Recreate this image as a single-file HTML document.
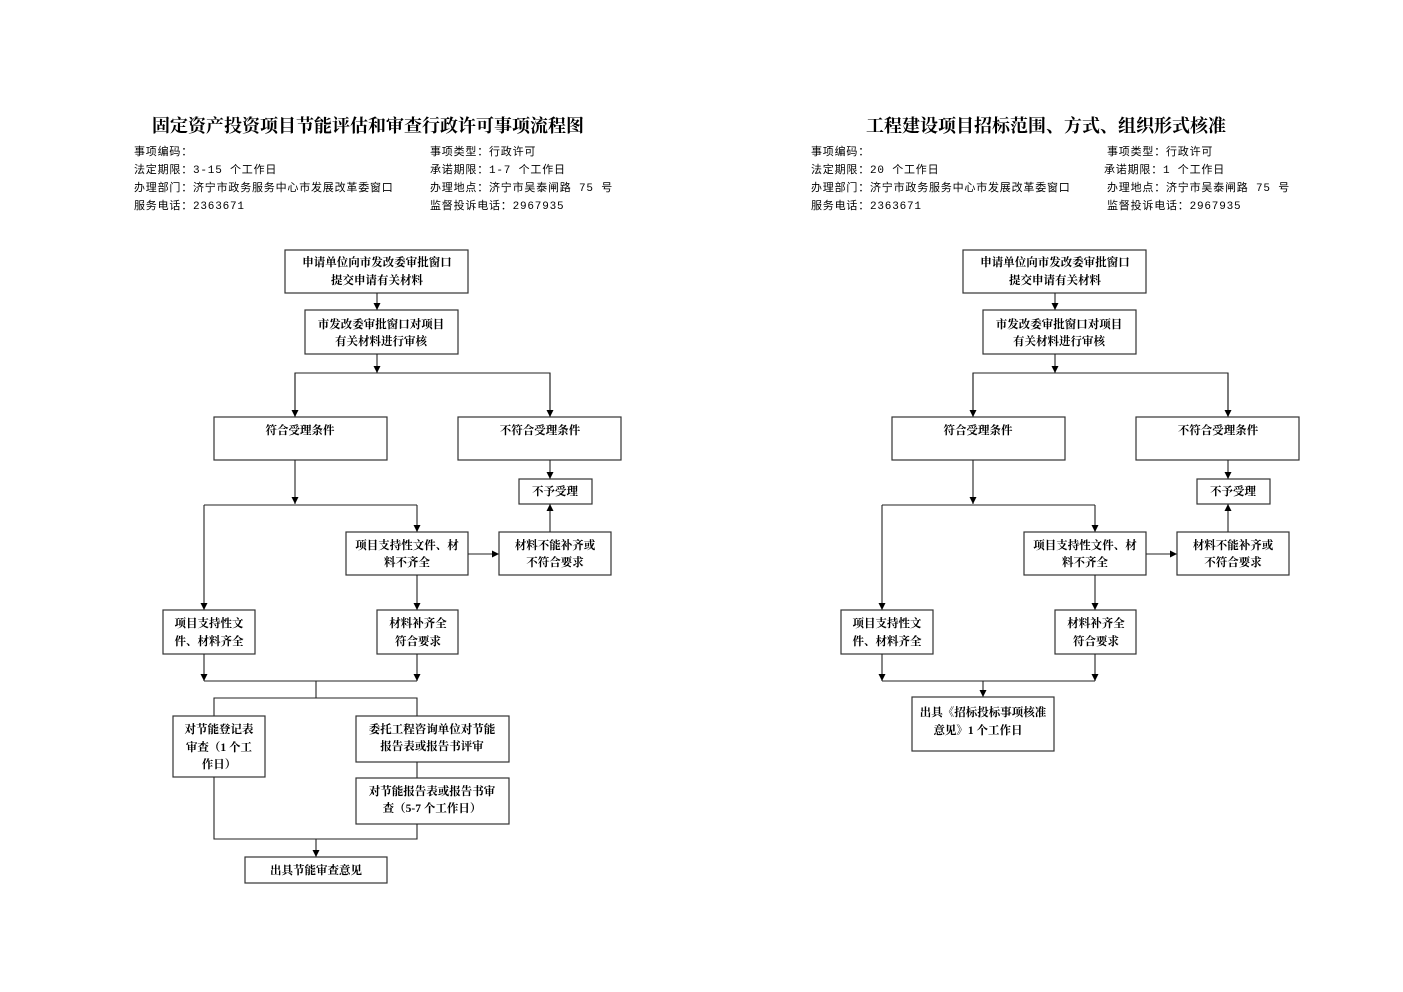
<!DOCTYPE html>
<html><head><meta charset="utf-8"><style>
html,body{margin:0;padding:0;background:#fff;}
svg{display:block;}
.t{font-family:"Liberation Serif","Noto Serif CJK SC",serif;font-size:18px;font-weight:bold;fill:#000;}
.i{font-family:"Liberation Mono","Noto Sans CJK SC",monospace;font-size:11px;letter-spacing:0.8px;fill:#000;}
.b{font-family:"Liberation Serif","Noto Serif CJK SC",serif;font-size:11.5px;font-weight:bold;fill:#000;text-anchor:middle;}
rect{fill:#fff;stroke:#333;stroke-width:1.2;}
line,polyline{stroke:#222;stroke-width:1.1;fill:none;}
</style></head><body>
<svg width="1403" height="992" viewBox="0 0 1403 992" xmlns="http://www.w3.org/2000/svg">
<defs><marker id="a" viewBox="0 0 10 10" refX="10" refY="5" markerWidth="7" markerHeight="7" orient="auto" markerUnits="userSpaceOnUse"><path d="M0,0L10,5L0,10z" fill="#000"/></marker></defs>

<text class="t" x="368" y="132" text-anchor="middle">固定资产投资项目节能评估和审查行政许可事项流程图</text>
<text class="i" x="134" y="155">事项编码：</text>
<text class="i" x="134" y="173">法定期限：3-15 个工作日</text>
<text class="i" x="134" y="191">办理部门：济宁市政务服务中心市发展改革委窗口</text>
<text class="i" x="134" y="209">服务电话：2363671</text>
<text class="i" x="430" y="155">事项类型：行政许可</text>
<text class="i" x="430" y="173">承诺期限：1-7 个工作日</text>
<text class="i" x="430" y="191">办理地点：济宁市吴泰闸路 75 号</text>
<text class="i" x="430" y="209">监督投诉电话：2967935</text>

<text class="t" x="1046" y="132" text-anchor="middle">工程建设项目招标范围、方式、组织形式核准</text>
<text class="i" x="811" y="155">事项编码：</text>
<text class="i" x="811" y="173">法定期限：20 个工作日</text>
<text class="i" x="811" y="191">办理部门：济宁市政务服务中心市发展改革委窗口</text>
<text class="i" x="811" y="209">服务电话：2363671</text>
<text class="i" x="1107" y="155">事项类型：行政许可</text>
<text class="i" x="1104" y="173">承诺期限：1 个工作日</text>
<text class="i" x="1107" y="191">办理地点：济宁市吴泰闸路 75 号</text>
<text class="i" x="1107" y="209">监督投诉电话：2967935</text>

<g id="common">
<rect x="285" y="250" width="183" height="43"/>
<text class="b" x="377" y="266">申请单位向市发改委审批窗口</text>
<text class="b" x="377" y="284">提交申请有关材料</text>
<line x1="377" y1="293" x2="377" y2="310" marker-end="url(#a)"/>
<rect x="305" y="310" width="153" height="44"/>
<text class="b" x="381" y="328">市发改委审批窗口对项目</text>
<text class="b" x="381" y="345">有关材料进行审核</text>
<line x1="377" y1="354" x2="377" y2="373" marker-end="url(#a)"/>
<polyline points="295,417 295,373 550,373 550,417"/>
<line x1="295" y1="373" x2="295" y2="417" marker-end="url(#a)"/>
<line x1="550" y1="373" x2="550" y2="417" marker-end="url(#a)"/>
<rect x="214" y="417" width="173" height="43"/>
<text class="b" x="300" y="434">符合受理条件</text>
<rect x="458" y="417" width="163" height="43"/>
<text class="b" x="540" y="434">不符合受理条件</text>
<line x1="550" y1="460" x2="550" y2="479" marker-end="url(#a)"/>
<rect x="519" y="479" width="73" height="25"/>
<text class="b" x="555" y="495">不予受理</text>
<line x1="295" y1="460" x2="295" y2="504" marker-end="url(#a)"/>
<line x1="204" y1="505" x2="417" y2="505"/>
<line x1="204" y1="505" x2="204" y2="610" marker-end="url(#a)"/>
<line x1="417" y1="505" x2="417" y2="532" marker-end="url(#a)"/>
<rect x="346" y="532" width="122" height="43"/>
<text class="b" x="407" y="549">项目支持性文件、材</text>
<text class="b" x="407" y="566">料不齐全</text>
<line x1="468" y1="554" x2="499" y2="554" marker-end="url(#a)"/>
<rect x="499" y="532" width="112" height="43"/>
<text class="b" x="555" y="549">材料不能补齐或</text>
<text class="b" x="555" y="566">不符合要求</text>
<line x1="550" y1="532" x2="550" y2="504" marker-end="url(#a)"/>
<line x1="417" y1="575" x2="417" y2="610" marker-end="url(#a)"/>
<rect x="163" y="610" width="92" height="44"/>
<text class="b" x="209" y="627">项目支持性文</text>
<text class="b" x="209" y="645">件、材料齐全</text>
<rect x="377" y="610" width="81" height="44"/>
<text class="b" x="418" y="627">材料补齐全</text>
<text class="b" x="418" y="645">符合要求</text>
<line x1="204" y1="654" x2="204" y2="681" marker-end="url(#a)"/>
<line x1="417" y1="654" x2="417" y2="681" marker-end="url(#a)"/>
<line x1="204" y1="681" x2="417" y2="681"/>
</g>
<use href="#common" transform="translate(678,0)"/>

<line x1="316" y1="681" x2="316" y2="698"/>
<polyline points="214,716 214,698 417,698 417,716"/>
<rect x="173" y="716" width="92" height="61"/>
<text class="b" x="219" y="733">对节能登记表</text>
<text class="b" x="219" y="751">审查（1 个工</text>
<text class="b" x="219" y="768">作日）</text>
<rect x="356" y="716" width="153" height="46"/>
<text class="b" x="432" y="733">委托工程咨询单位对节能</text>
<text class="b" x="432" y="750">报告表或报告书评审</text>
<line x1="417" y1="762" x2="417" y2="778"/>
<rect x="356" y="778" width="153" height="46"/>
<text class="b" x="432" y="795">对节能报告表或报告书审</text>
<text class="b" x="432" y="812">查（5-7 个工作日）</text>
<polyline points="214,777 214,839 417,839 417,824"/>
<line x1="316" y1="839" x2="316" y2="857" marker-end="url(#a)"/>
<rect x="245" y="857" width="142" height="26"/>
<text class="b" x="316" y="874">出具节能审查意见</text>

<line x1="983" y1="681" x2="983" y2="697" marker-end="url(#a)"/>
<rect x="912" y="697" width="142" height="54"/>
<text class="b" x="983" y="716">出具《招标投标事项核准</text>
<text class="b" x="978" y="734">意见》1 个工作日</text>
</svg>
</body></html>
